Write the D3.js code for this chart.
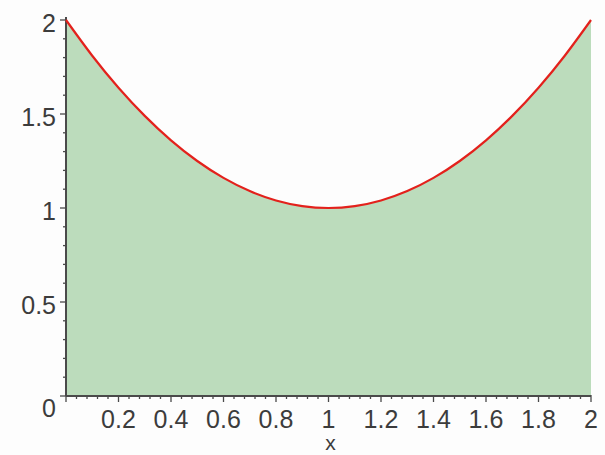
<!DOCTYPE html>
<html>
<head>
<meta charset="utf-8">
<script src="https://cdn.jsdelivr.net/npm/d3@7"></script>
<style>
  html, body { margin: 0; padding: 0; background: #fdfdfd; }
  svg { display: block; }
  .lbl { font-family: "Liberation Sans", Arial, sans-serif; font-size: 25px; fill: #3c3c3c; }
</style>
</head>
<body>
<svg id="chart" width="605" height="455"></svg>
<script>
// Sampled curve points
const xValues = [0, 0.1, 0.2, 0.3, 0.4, 0.5, 0.6, 0.7, 0.8, 0.9, 1.0,
                 1.1, 1.2, 1.3, 1.4, 1.5, 1.6, 1.7, 1.8, 1.9, 2.0];
const yValues = [2.0, 1.81, 1.64, 1.49, 1.36, 1.25, 1.16, 1.09, 1.04, 1.01, 1.0,
                 1.01, 1.04, 1.09, 1.16, 1.25, 1.36, 1.49, 1.64, 1.81, 2.0];

// Tick labels
const xTickValues = [0.2, 0.4, 0.6, 0.8, 1, 1.2, 1.4, 1.6, 1.8, 2];
const xTickLabels = ["0.2", "0.4", "0.6", "0.8", "1", "1.2", "1.4", "1.6", "1.8", "2"];
const yTickValues = [0, 0.5, 1, 1.5, 2];
const yTickLabels = ["0", "0.5", "1", "1.5", "2"];
const xTitle = "x";

const svg = d3.select("#chart");
const plotLeft = 66, plotRight = 591, plotTop = 20, plotBottom = 396;

const x = d3.scaleLinear().domain([0, 2]).range([plotLeft, plotRight]);
const y = d3.scaleLinear().domain([0, 2]).range([plotBottom, plotTop]);

const pts = xValues.map((v, i) => [v, yValues[i]]);

// Shaded region under the curve
const area = d3.area()
  .x(d => x(d[0]))
  .y0(y(0))
  .y1(d => y(d[1]))
  .curve(d3.curveNatural);
svg.append("path").datum(pts)
  .attr("d", area)
  .attr("fill", "#bcdcbc");

// Axis lines
const axisColor = "#4a4a4a";
svg.append("line").attr("x1", x(0)).attr("x2", x(2)).attr("y1", y(0)).attr("y2", y(0))
  .attr("stroke", axisColor).attr("stroke-width", 2);
svg.append("line").attr("x1", x(0)).attr("x2", x(0)).attr("y1", y(0)).attr("y2", y(2) - 3)
  .attr("stroke", axisColor).attr("stroke-width", 2);

// Minor and major ticks on x axis
d3.range(0, 51).forEach(i => {
  const v = i * 0.04;
  const major = i % 5 === 0;
  svg.append("line")
    .attr("x1", x(v)).attr("x2", x(v))
    .attr("y1", y(0) - (major ? 1 : 0)).attr("y2", y(0) + (major ? 6 : 3))
    .attr("stroke", axisColor).attr("stroke-width", 1.3);
});
// Minor and major ticks on y axis
d3.range(0, 21).forEach(i => {
  const v = i * 0.1;
  const major = i % 5 === 0;
  svg.append("line")
    .attr("x1", x(0)).attr("x2", x(0) - (major ? 6 : 3))
    .attr("y1", y(v)).attr("y2", y(v))
    .attr("stroke", axisColor).attr("stroke-width", 1.3);
});

// Curve
const line = d3.line()
  .x(d => x(d[0]))
  .y(d => y(d[1]))
  .curve(d3.curveNatural);
svg.append("path").datum(pts)
  .attr("d", line)
  .attr("fill", "none")
  .attr("stroke", "#e3211c")
  .attr("stroke-width", 2.2);

function label(px, py, anchor, str, size) {
  const t = svg.append("text")
    .attr("class", "lbl")
    .attr("x", px).attr("y", py)
    .attr("text-anchor", anchor)
    .text(str);
  if (size) t.style("font-size", size + "px");
}

// Tick labels
xTickValues.forEach((d, i) => label(x(d), 428, "middle", xTickLabels[i]));
yTickValues.forEach((d, i) =>
  label(x(0) - 10, d === 0 ? 417 : y(d) + 12, "end", yTickLabels[i]));

// Axis title
label(x(1) + 2, 450, "middle", xTitle, 21);
</script>
</body>
</html>
